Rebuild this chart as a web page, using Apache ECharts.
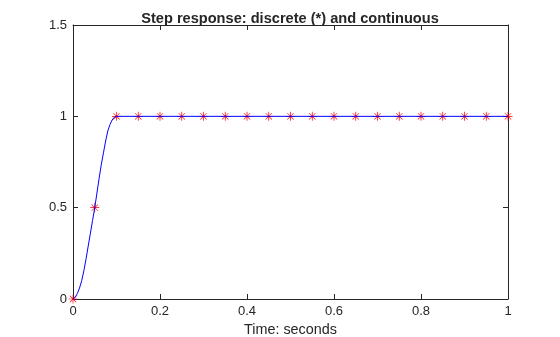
<!DOCTYPE html>
<html>
<head>
<meta charset="utf-8">
<script src="https://cdn.jsdelivr.net/npm/echarts@6/dist/echarts.min.js"></script>
<style>
  html, body { margin: 0; padding: 0; background: #fff; }
  #chart { width: 560px; height: 337px; }
</style>
</head>
<body>
<div id="chart"></div>
<script>
// Sampled (discrete) step response, T = 0.05 s
var timeDiscrete = [0, 0.05, 0.1, 0.15, 0.2, 0.25, 0.3, 0.35, 0.4, 0.45, 0.5,
                    0.55, 0.6, 0.65, 0.7, 0.75, 0.8, 0.85, 0.9, 0.95, 1];
var respDiscrete = [0, 0.5, 1, 1, 1, 1, 1, 1, 1, 1, 1,
                    1, 1, 1, 1, 1, 1, 1, 1, 1, 1];

// Continuous step response
var timeCont = [0, 0.005, 0.01, 0.015, 0.02, 0.025, 0.03, 0.035, 0.04, 0.045, 0.05,
                0.055, 0.06, 0.065, 0.07, 0.075, 0.08, 0.085, 0.09, 0.095, 0.1, 1];
var respCont = [0, 0.008, 0.03, 0.06, 0.1, 0.155, 0.22, 0.29, 0.36, 0.43, 0.5,
                0.58, 0.66, 0.735, 0.8, 0.865, 0.92, 0.955, 0.98, 0.995, 1, 1];

var xTicks = [0, 0.2, 0.4, 0.6, 0.8, 1];
var yTicks = [0, 0.5, 1, 1.5];

var titleText = 'Step response: discrete (*) and continuous';
var xLabel = 'Time: seconds';

function pairs(xs, ys) {
  return xs.map(function (x, i) { return [x, ys[i]]; });
}

// MATLAB-style asterisk marker: vertical, horizontal and two diagonal strokes
var asterisk = 'path://M-0.4,-5L0.4,-5L0.4,5L-0.4,5Z' +
  'M-5,-0.4L5,-0.4L5,0.4L-5,0.4Z' +
  'M-3.3,-3.8L3.8,3.3L3.3,3.8L-3.8,-3.3Z' +
  'M3.3,-3.8L3.8,-3.3L-3.3,3.8L-3.8,3.3Z';

var fontFam = '"Liberation Sans", Arial, Helvetica, sans-serif';
var ink = '#262626';

function boxAxis(base, show) {
  return Object.assign({
    type: 'value',
    axisLine: { show: true, onZero: false, lineStyle: { color: ink, width: 1 } },
    axisTick: { show: true, inside: true, length: 5, lineStyle: { color: ink } },
    splitLine: { show: false },
    axisLabel: { show: show, color: ink, fontFamily: fontFam, fontSize: 13 }
  }, base);
}

var chart = echarts.init(document.getElementById('chart'), null, { renderer: 'canvas' });
chart.setOption({
  animation: false,
  backgroundColor: '#fff',
  title: {
    text: titleText,
    left: 285, top: 6, textAlign: 'center',
    textStyle: { fontFamily: fontFam, fontSize: 14.6, fontWeight: 'bold', color: ink }
  },
  grid: {
    left: 73, right: 52, top: 25, bottom: 38,
    containLabel: false, outerBoundsMode: 'none'
  },
  xAxis: [
    boxAxis({
      position: 'bottom', min: xTicks[0], max: xTicks[xTicks.length - 1], interval: 0.2,
      name: xLabel, nameLocation: 'middle', nameGap: 22,
      nameTextStyle: { fontFamily: fontFam, fontSize: 14.4, color: ink, verticalAlign: 'top' },
      axisLabel: { show: true, color: ink, fontFamily: fontFam, fontSize: 13, margin: 6 }
    }, true),
    boxAxis({ position: 'top', min: 0, max: 1, interval: 0.2 }, false)
  ],
  yAxis: [
    boxAxis({
      position: 'left', min: yTicks[0], max: yTicks[yTicks.length - 1], interval: 0.5,
      axisLabel: { show: true, color: ink, fontFamily: fontFam, fontSize: 13, margin: 6 }
    }, true),
    boxAxis({ position: 'right', min: 0, max: 1.5, interval: 0.5 }, false)
  ],
  series: [
    {
      type: 'scatter',
      name: 'discrete',
      data: pairs(timeDiscrete, respDiscrete),
      symbol: asterisk,
      symbolSize: 9,
      itemStyle: { color: '#ff0000', opacity: 1 },
      clip: false,
      z: 2
    },
    {
      type: 'line',
      name: 'continuous',
      data: pairs(timeCont, respCont),
      showSymbol: false,
      symbol: 'none',
      lineStyle: { color: '#0000ff', width: 1 },
      z: 3
    }
  ]
});
</script>
</body>
</html>
